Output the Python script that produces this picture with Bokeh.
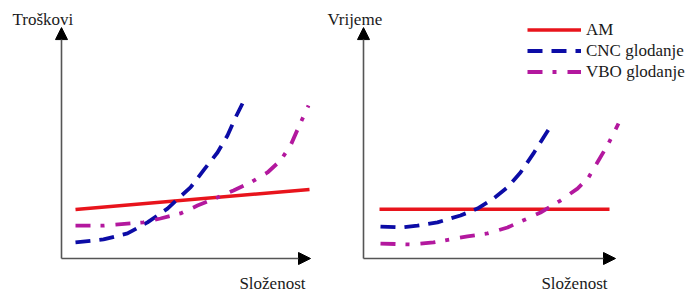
from bokeh.plotting import figure
from bokeh.layouts import row
from bokeh.models import Arrow, NormalHead, Label, Legend, LegendItem, Range1d
from bokeh.embed import file_html
from bokeh.resources import INLINE

# ---- data (complexity vs. relative cost / time) ----
cost_am_x = [0.56, 9.92]
cost_am_y = [2.13, 3.00]
cost_cnc_x = [0.56, 1.68, 2.64, 3.44, 4.24, 4.76, 5.16, 5.68, 6.24, 6.64, 6.96, 7.24]
cost_cnc_y = [0.70, 0.83, 1.09, 1.57, 2.17, 2.70, 3.09, 3.83, 4.61, 5.35, 6.13, 6.74]
cost_vbo_x = [0.56, 1.68, 3.28, 3.96, 4.76, 5.44, 6.24, 6.88, 7.56, 8.24, 8.76, 9.16, 9.48, 9.88]
cost_vbo_y = [1.43, 1.43, 1.57, 1.74, 1.96, 2.30, 2.65, 2.96, 3.30, 3.74, 4.26, 4.91, 5.70, 6.65]

time_am_x = [0.64, 9.84]
time_am_y = [2.14, 2.14]
time_cnc_x = [0.68, 1.48, 2.16, 2.96, 3.88, 4.56, 5.20, 5.76, 6.28, 6.80, 7.20, 7.56]
time_cnc_y = [1.39, 1.35, 1.43, 1.57, 1.87, 2.17, 2.61, 3.09, 3.74, 4.57, 5.26, 5.87]
time_vbo_x = [0.68, 1.88, 2.80, 3.48, 4.16, 4.96, 5.76, 6.56, 7.08, 7.88, 8.56, 9.00, 9.40, 9.80, 10.20]
time_vbo_y = [0.65, 0.61, 0.70, 0.83, 0.96, 1.09, 1.35, 1.74, 2.00, 2.52, 3.04, 3.52, 4.26, 5.00, 5.87]

series_names = ["AM", "CNC glodanje", "VBO glodanje"]
y_titles = ["Troškovi", "Vrijeme"]
x_title = "Složenost"

# ---- styles ----
RED = "#e8141c"
BLUE = "#0c0ca6"
MAGENTA = "#b3189e"
AXIS_COLOR = "#555555"
FONT = "'Liberation Serif', 'Times New Roman', serif"
TEXT_COLOR = "#1a1a1a"

H = 294
Y_RANGE = (-1.5652, 11.2174)
X_AXIS_END_LEFT = 9.96
X_AXIS_END_RIGHT = 10.08
Y_AXIS_END = 10.04


def make_fig(width, xr):
    p = figure(width=width, height=H, output_backend="svg", toolbar_location=None,
               x_range=Range1d(*xr), y_range=Range1d(*Y_RANGE),
               x_axis_location=None, y_axis_location=None, min_border=0)
    p.grid.visible = False
    p.outline_line_color = None
    p.background_fill_color = "white"
    p.border_fill_color = "white"
    return p


def add_axes(p, x_end, ytitle, ytitle_x):
    p.add_layout(Arrow(x_start=0, y_start=0, x_end=0, y_end=Y_AXIS_END,
                       line_color=AXIS_COLOR, line_width=1.6,
                       end=NormalHead(size=12, fill_color="black", line_color="black", line_width=1)))
    p.add_layout(Arrow(x_start=0, y_start=0, x_end=x_end, y_end=0,
                       line_color=AXIS_COLOR, line_width=1.6,
                       end=NormalHead(size=12, fill_color="black", line_color="black", line_width=1)))
    p.add_layout(Label(x=ytitle_x, y=10.39, text=ytitle, text_font=FONT, text_font_size="17px",
                       text_color=TEXT_COLOR, text_baseline="alphabetic", text_align="left"))
    p.add_layout(Label(x=9.76, y=-1.09, text=x_title, text_font=FONT, text_font_size="17px",
                       text_color=TEXT_COLOR, text_baseline="alphabetic", text_align="right"))


def add_lines(p, am, cnc, vbo):
    r1 = p.line(am[0], am[1], line_color=RED, line_width=3.5)
    r2 = p.line(cnc[0], cnc[1], line_color=BLUE, line_width=3.8, line_dash="15 9", line_cap="butt")
    r3 = p.line(vbo[0], vbo[1], line_color=MAGENTA, line_width=3.8, line_dash="15 10 4 11", line_cap="butt")
    return r1, r2, r3


left = make_fig(320, (-2.44, 10.36))
add_lines(left, (cost_am_x, cost_am_y), (cost_cnc_x, cost_cnc_y), (cost_vbo_x, cost_vbo_y))
add_axes(left, X_AXIS_END_LEFT, y_titles[0], -1.96)

right = make_fig(367, (-1.72, 12.96))
rr = add_lines(right, (time_am_x, time_am_y), (time_cnc_x, time_cnc_y), (time_vbo_x, time_vbo_y))
add_axes(right, X_AXIS_END_RIGHT, y_titles[1], -1.44)

legend = Legend(items=[LegendItem(label=n, renderers=[r]) for n, r in zip(series_names, rr)],
                location=(207, 212), orientation="vertical",
                glyph_width=54, glyph_height=21, label_height=21, spacing=0, padding=0, margin=0,
                label_standoff=5, border_line_color=None, background_fill_alpha=0,
                label_text_font=FONT, label_text_font_size="17px", label_text_color=TEXT_COLOR)
right.add_layout(legend)

layout = row(left, right, spacing=0)
open("out.html", "w").write(file_html(layout, INLINE))
